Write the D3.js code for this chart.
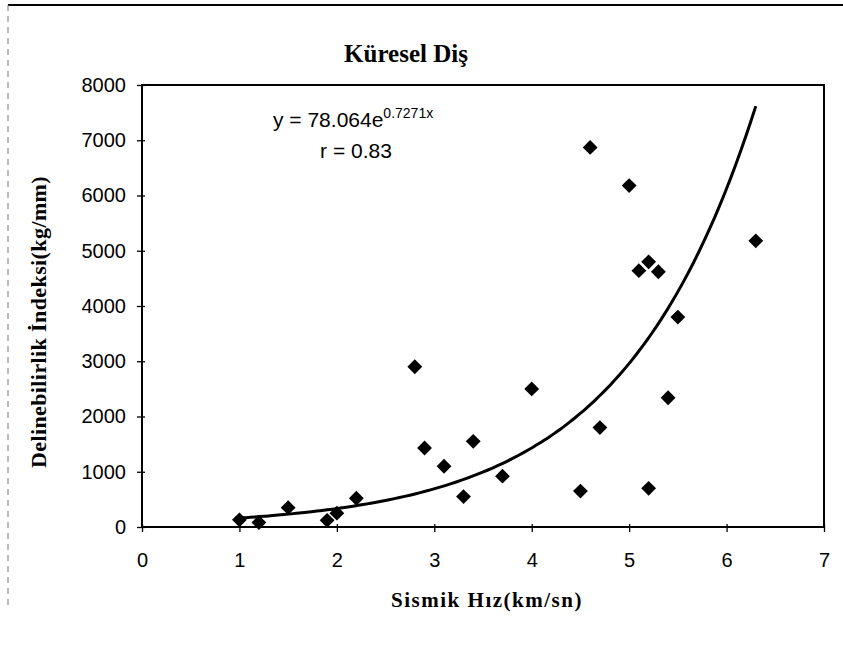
<!DOCTYPE html>
<html><head><meta charset="utf-8">
<script src="https://cdn.jsdelivr.net/npm/d3@7"></script>
<style>body{margin:0;background:#fff}svg{display:block}</style>
</head><body>
<script>
// Data
const sismikHiz = [1.0, 1.2, 1.5, 1.9, 2.0, 2.2, 2.8, 2.9, 3.1, 3.3, 3.4, 3.7, 4.0, 4.5, 4.6, 4.7, 5.0, 5.1, 5.2, 5.2, 5.3, 5.4, 5.5, 6.3];
const delinebilirlik = [130, 80, 350, 120, 250, 520, 2900, 1430, 1100, 550, 1550, 920, 2500, 650, 6870, 1800, 6180, 4640, 4800, 700, 4620, 2340, 3800, 5180];
const xTicks = [0, 1, 2, 3, 4, 5, 6, 7];
const yTicks = [0, 1000, 2000, 3000, 4000, 5000, 6000, 7000, 8000];
const trendA = 78.064, trendB = 0.7271;
const titleText = "Küresel Diş";
const xTitle = "Sismik Hız(km/sn)";
const yTitle = "Delinebilirlik İndeksi(kg/mm)";

const W = 843, H = 647;
const L = 142, R = 824, T = 85, B = 527;

const svg = d3.select("body").append("svg").attr("width", W).attr("height", H);

// outer chart border (scanned look)
svg.append("line").attr("x1", 8).attr("x2", W).attr("y1", 5).attr("y2", 5)
  .attr("stroke", "#000").attr("stroke-width", 2);
svg.append("line").attr("x1", 8).attr("x2", 8).attr("y1", 5).attr("y2", 610)
  .attr("stroke", "#777").attr("stroke-width", 1).attr("stroke-dasharray", "6,5");

const x = d3.scaleLinear().domain([0, 7]).range([L, R]);
const y = d3.scaleLinear().domain([0, 8000]).range([B, T]);

// plot frame
svg.append("rect").attr("x", L).attr("y", T).attr("width", R - L).attr("height", B - T)
  .attr("fill", "none").attr("stroke", "#000").attr("stroke-width", 2);

const font = "'Liberation Sans', Arial, sans-serif";
const serif = "'Liberation Serif', 'Times New Roman', serif";

// Axes
const yAxis = svg.append("g").attr("transform", `translate(${L},0)`)
  .call(d3.axisLeft(y).tickValues(yTicks).tickSize(5).tickPadding(4).tickFormat(d3.format("d")));
yAxis.select(".domain").remove();
yAxis.selectAll(".tick line").attr("x2", 3).attr("x1", -5).attr("stroke-width", 1.3);
yAxis.selectAll("text").attr("font-family", font).attr("font-size", 20).attr("fill", "#000").attr("x", -16);

const xAxis = svg.append("g").attr("transform", `translate(0,${B})`)
  .call(d3.axisBottom(x).tickValues(xTicks).tickSize(5).tickPadding(21).tickFormat(d3.format("d")));
xAxis.select(".domain").remove();
xAxis.selectAll(".tick line").attr("y1", -3).attr("y2", 5).attr("stroke-width", 1.3);
xAxis.selectAll("text").attr("font-family", font).attr("font-size", 20).attr("fill", "#000");

// Trend line
const xs = d3.range(0, 101).map(i => d3.min(sismikHiz) + (d3.max(sismikHiz) - d3.min(sismikHiz)) * i / 100);
const line = d3.line().x(d => x(d)).y(d => y(trendA * Math.exp(trendB * d))).curve(d3.curveMonotoneX);
svg.append("path").datum(xs).attr("d", line).attr("fill", "none")
  .attr("stroke", "#000").attr("stroke-width", 3);

// Points (diamonds)
const sym = d3.symbol().type(d3.symbolSquare).size(110);
svg.append("g").selectAll("path").data(sismikHiz).join("path")
  .attr("d", sym)
  .attr("transform", (d, i) => `translate(${x(d)},${y(delinebilirlik[i])}) rotate(45)`)
  .attr("fill", "#000");

// Title
svg.append("text").attr("x", 406).attr("y", 62).attr("text-anchor", "middle")
  .attr("font-family", serif).attr("font-weight", "bold").attr("font-size", 25)
  .text(titleText);

// Axis titles
svg.append("text").attr("x", 487).attr("y", 607).attr("text-anchor", "middle")
  .attr("font-family", serif).attr("font-weight", "bold").attr("font-size", 21)
  .attr("letter-spacing", 1.5).text(xTitle);
svg.append("text").attr("transform", "translate(46,322) rotate(-90)").attr("text-anchor", "middle")
  .attr("font-family", serif).attr("font-weight", "bold").attr("font-size", 22)
  .attr("letter-spacing", 0.4).text(yTitle);

// Equation annotation
const eq = svg.append("text").attr("x", 273).attr("y", 127)
  .attr("font-family", font).attr("font-size", 21).attr("fill", "#000");
eq.append("tspan").text(`y = ${trendA.toFixed(3)}e`);
eq.append("tspan").attr("dy", -9).attr("font-size", 14).text(`${trendB}x`);
svg.append("text").attr("x", 356).attr("y", 158).attr("text-anchor", "middle")
  .attr("font-family", font).attr("font-size", 21).text("r = 0.83");
</script>
</body></html>
